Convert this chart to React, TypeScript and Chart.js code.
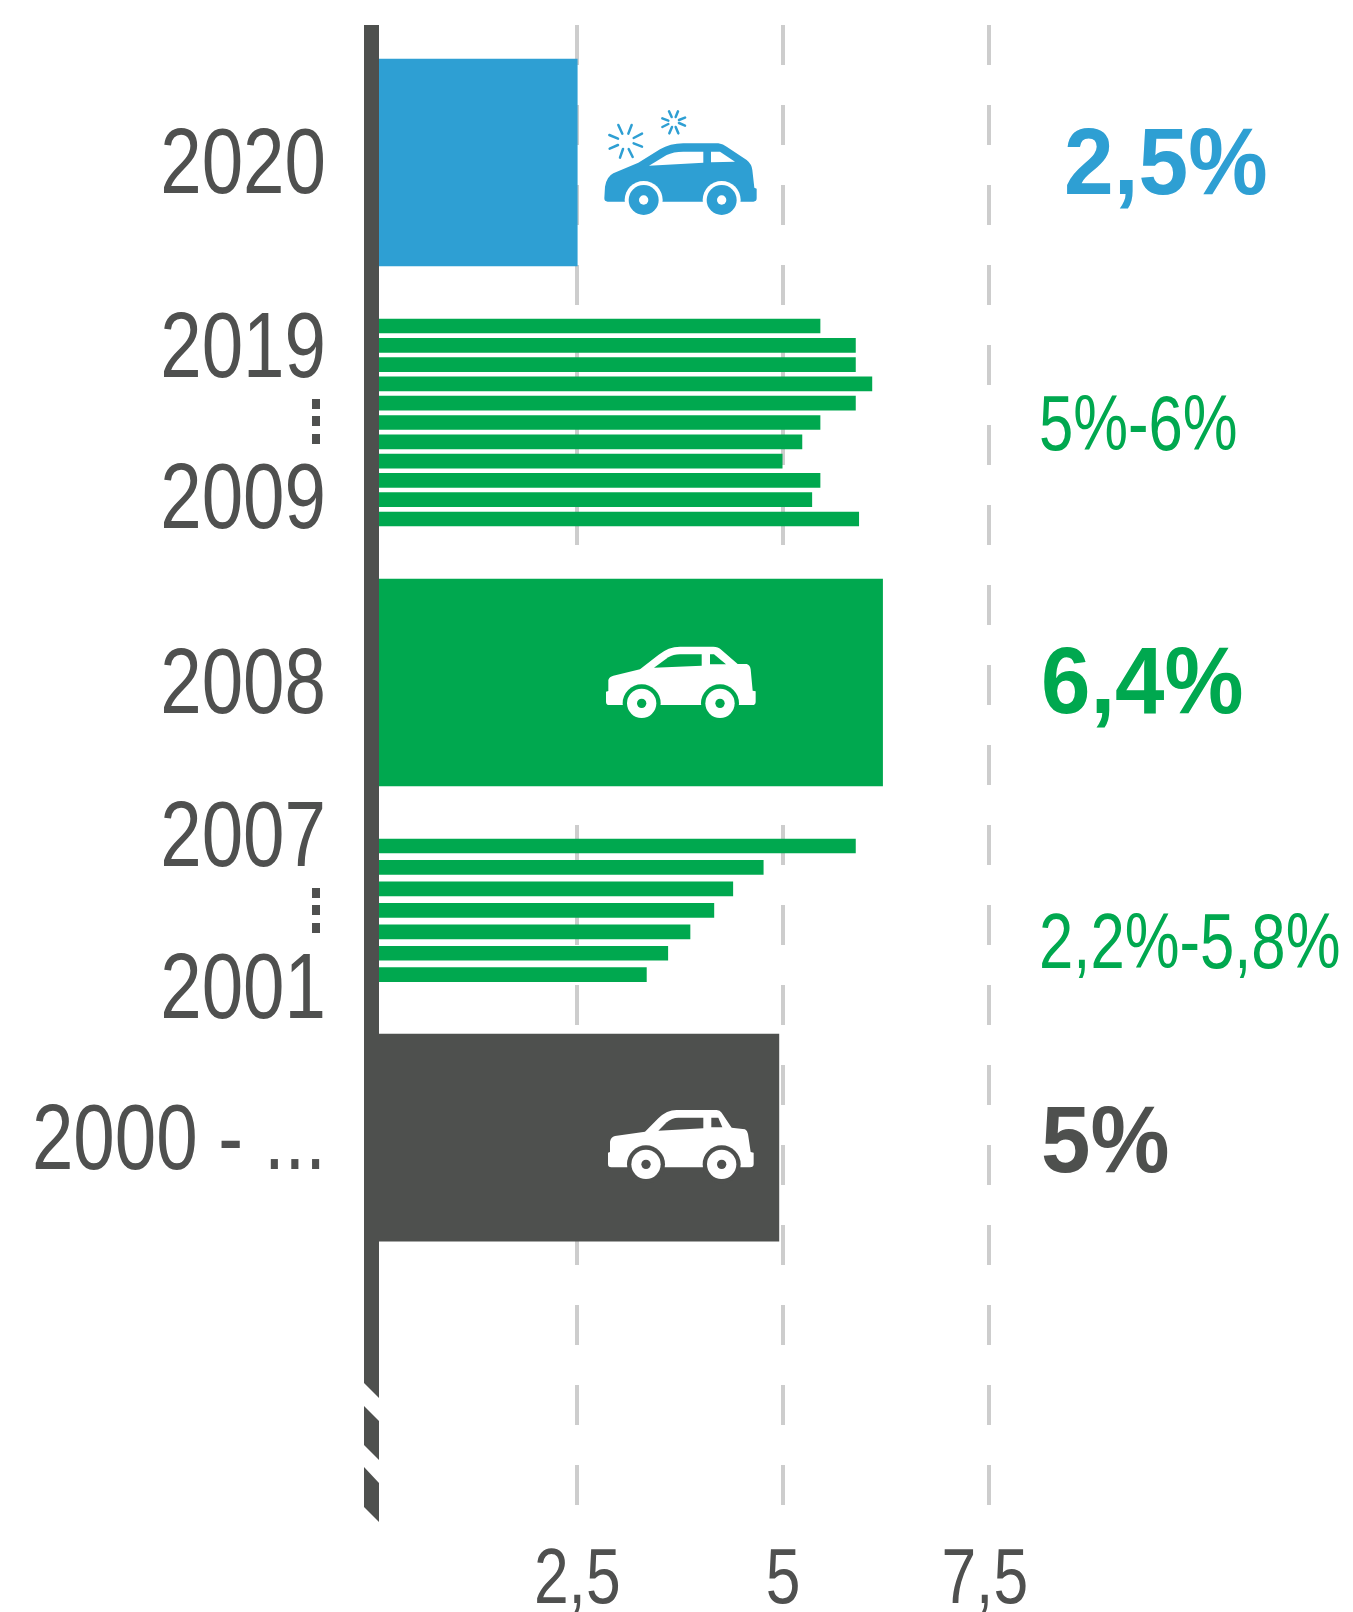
import React, { useEffect, useRef } from "react";
import { Chart, registerables } from "chart.js";

Chart.register(...registerables);

// ---- data ----
const highlightYear = ["2020"];
const highlightValue = [2.5];
const recentYears = ["2019", "2018", "2017", "2016", "2015", "2014", "2013", "2012", "2011", "2010", "2009"];
const recentValues = [5.45, 5.88, 5.88, 6.08, 5.88, 5.45, 5.23, 4.99, 5.45, 5.35, 5.92];
const crisisYear = ["2008"];
const crisisValue = [6.21];
const earlyYears = ["2007", "2006", "2005", "2004", "2003", "2002", "2001"];
const earlyValues = [5.88, 4.76, 4.39, 4.16, 3.87, 3.6, 3.34];
const baseYear = ["2000 - ..."];
const baseValue = [4.95];
const xTickValues = [2.5, 5, 7.5];
const yTickLabels = ["2020", "2019", "2009", "2008", "2007", "2001", "2000 - ..."];
const valueLabels = ["2,5%", "5%-6%", "6,4%", "2,2%-5,8%", "5%"];

// ---- colours / layout ----
const BLUE = "#2e9fd3";
const GREEN = "#00a84f";
const DARK = "#4e504e";
const TEXT = "#4f504f";
const GRID = "#cdcdcd";
const FONT = "'Liberation Sans', sans-serif";
const W = 1353;
const H = 1612;
const ZERO_X = 371.5;
const PX_PER_UNIT = 82.3;
const PLOT_TOP = 25;
const PLOT_BOTTOM = 1505;
const AXIS_WIDTH = 15;
const xTickNudge = [0, 0, -4];

// vertical slot of each row, in plot units
const slot2020 = 162.5;
const slotGap = 163.5;
const recentPitch = 19.3;
const earlyPitch = 21.45;
const slot2019 = slot2020 + slotGap;
const slot2009 = slot2019 + recentPitch * (recentYears.length - 1);
const slot2008 = slot2009 + slotGap;
const slot2007 = slot2008 + slotGap;
const slot2001 = slot2007 + earlyPitch * (earlyYears.length - 1);
const slot2000 = slot2001 + slotGap - 0.5;
const yTickSlots = [162, 346, 497, 682, 835, 987, 1138];
const valueLabelSlots = [163, 419, 682, 937, 1141];

const pts = (vals: number[], start: number, pitch: number) =>
  vals.map((v, i) => ({ x: v, y: start + pitch * i }));

function car(
  ctx: CanvasRenderingContext2D,
  ox: number,
  oy: number,
  fg: string,
  bg: string,
  body: string,
  windows: string[],
  wheels: [number, number][],
  wheelR: number,
  cutR: number,
  hubR: number
) {
  ctx.save();
  ctx.translate(ox, oy);
  ctx.scale(1 / 3, 1 / 3);
  ctx.fillStyle = fg;
  ctx.fill(new Path2D(body));
  ctx.fillStyle = bg;
  windows.forEach((w) => ctx.fill(new Path2D(w)));
  wheels.forEach(([x, y]) => {
    ctx.fillStyle = bg;
    ctx.beginPath();
    ctx.arc(x, y, cutR, 0, Math.PI * 2);
    ctx.fill();
    ctx.fillStyle = fg;
    ctx.beginPath();
    ctx.arc(x, y, wheelR, 0, Math.PI * 2);
    ctx.fill();
    ctx.fillStyle = bg;
    ctx.beginPath();
    ctx.arc(x, y, hubR, 0, Math.PI * 2);
    ctx.fill();
  });
  ctx.restore();
}

function burst(ctx: CanvasRenderingContext2D, ox: number, oy: number, segs: number[][]) {
  ctx.save();
  ctx.translate(ox, oy);
  ctx.scale(1 / 3, 1 / 3);
  ctx.strokeStyle = BLUE;
  ctx.lineWidth = 7.5;
  ctx.lineCap = "round";
  segs.forEach(([a, b, c, d]) => {
    ctx.beginPath();
    ctx.moveTo(a, b);
    ctx.lineTo(c, d);
    ctx.stroke();
  });
  ctx.restore();
}

// condensed text: the page has no narrow face, so the regular one is squeezed
function squeezed(
  ctx: CanvasRenderingContext2D,
  t: string,
  x: number,
  y: number,
  align: CanvasTextAlign,
  col: string,
  weight: string,
  size: number,
  k: number
) {
  ctx.save();
  ctx.translate(x, y);
  ctx.scale(k, 1);
  ctx.textAlign = align;
  ctx.textBaseline = "alphabetic";
  ctx.fillStyle = col;
  ctx.font = `${weight} ${size}px ${FONT}`;
  ctx.fillText(t, 0, 0);
  ctx.restore();
}

const decorations = {
  id: "decorations",
  afterDatasetsDraw(chart: any) {
    const ctx: CanvasRenderingContext2D = chart.ctx;
    const xs = chart.scales.x;
    const ys = chart.scales.y;
    const l = xs.getPixelForValue(0) - AXIS_WIDTH / 2;
    const r = l + AXIS_WIDTH;

    // axis with break
    ctx.save();
    ctx.fillStyle = DARK;
    const seg = (tl: number, tr: number, bl: number, br: number) => {
      ctx.beginPath();
      ctx.moveTo(l, tl);
      ctx.lineTo(r, tr);
      ctx.lineTo(r, br);
      ctx.lineTo(l, bl);
      ctx.closePath();
      ctx.fill();
    };
    seg(PLOT_TOP, PLOT_TOP, 1383, 1398);
    seg(1406, 1421, 1445, 1460);
    seg(1467, 1483, 1507, 1522);

    // dots between year labels
    ctx.fillStyle = TEXT;
    [399, 416, 434, 888, 905, 923].forEach((y) => ctx.fillRect(312, y, 8, 10));

    // cars
    car(
      ctx, 560, 90, BLUE, "#ffffff",
      "M133 325 L135 290 Q140 260 160 250 L235 218 L300 178 Q330 160 370 160 L475 160 Q490 162 500 170 L560 210 Q575 222 577 240 L583 293 L590 296 L590 325 Q590 335 580 335 L143 335 Q133 335 133 325 Z",
      ["M267 227 L320 195 Q340 185 370 185 L430 185 L430 218 Z", "M453 185 L480 185 L525 215 L453 217 Z"],
      [[251, 330], [485, 330]], 45, 57, 14
    );
    burst(ctx, 560, 90, [
      [175, 105, 187, 131], [215, 105, 205, 131], [246, 131, 221, 144], [246, 170, 221, 160],
      [218, 201, 206, 177], [180, 203, 189, 177], [149, 176, 174, 165], [148, 135, 174, 146],
    ]);
    burst(ctx, 560, 90, [
      [327, 64, 335, 81], [354, 64, 347, 81], [375, 83, 357, 90], [375, 107, 357, 99],
      [355, 130, 347, 111], [328, 130, 336, 111], [307, 111, 325, 102], [307, 85, 325, 92],
    ]);
    car(
      ctx, 590, 630, "#ffffff", GREEN,
      "M48 185 L55 183 L55 150 Q58 140 70 137 L150 118 L205 75 Q235 50 270 50 L370 50 Q385 50 392 58 L443 102 L470 102 Q480 105 482 118 L488 182 L497 184 L497 215 Q497 225 487 225 L58 225 Q48 225 48 215 Z",
      ["M192 113 L235 82 Q250 73 270 73 L335 73 L335 107 Z", "M360 73 L372 73 L408 103 L360 103 Z"],
      [[155, 220], [390, 220]], 44, 57, 14
    );
    car(
      ctx, 590, 1090, "#ffffff", DARK,
      "M54 188 L60 186 L60 155 Q62 142 75 138 L165 125 L205 85 Q230 60 260 60 L380 60 Q390 60 395 68 L425 113 L465 118 Q472 122 474 132 L482 186 L491 188 L491 222 Q491 232 480 232 L64 232 Q54 232 54 222 Z",
      ["M205 122 L230 97 Q245 83 265 83 L340 83 L340 115 Z", "M364 83 L385 83 L397 112 L364 112 Z"],
      [[168, 223], [395, 223]], 44, 57, 14
    );

    // axis tick labels, taken from the scales
    ys.ticks.forEach((t: any, i: number) => {
      squeezed(ctx, t.label, 326, ys.getPixelForTick(i) + 31, "right", TEXT, "normal", 92, 0.81);
    });
    xs.ticks.forEach((t: any, i: number) => {
      squeezed(ctx, t.label, xs.getPixelForTick(i) + xTickNudge[i], 1603, "center", TEXT, "normal", 78, 0.8);
    });

    // value labels
    const vy = (i: number) => ys.getPixelForValue(valueLabelSlots[i]) + 31;
    squeezed(ctx, valueLabels[0], 1064, vy(0), "left", BLUE, "bold", 94, 0.95);
    squeezed(ctx, valueLabels[1], 1039, vy(1), "left", GREEN, "normal", 78, 0.79);
    squeezed(ctx, valueLabels[2], 1041, vy(2), "left", GREEN, "bold", 94, 0.945);
    squeezed(ctx, valueLabels[3], 1039, vy(3), "left", GREEN, "normal", 78, 0.79);
    squeezed(ctx, valueLabels[4], 1041, vy(4), "left", DARK, "bold", 94, 0.945);
    ctx.restore();
  },
};

export default function App() {
  const ref = useRef<HTMLCanvasElement>(null);
  useEffect(() => {
    document.body.style.margin = "0";
    const bar = (color: string, thickness: number, data: { x: number; y: number }[], label: string) => ({
      label,
      data,
      backgroundColor: color,
      barThickness: thickness,
      grouped: false,
      borderWidth: 0,
    });
    const chart = new Chart(ref.current!, {
      type: "bar",
      data: {
        datasets: [
          bar(BLUE, 207, pts(highlightValue, slot2020, 0), highlightYear[0]),
          bar(GREEN, 14, pts(recentValues, slot2019, recentPitch), "2019-2009"),
          bar(GREEN, 207, pts(crisisValue, slot2008, 0), crisisYear[0]),
          bar(GREEN, 14, pts(earlyValues, slot2007, earlyPitch), "2007-2001"),
          bar(DARK, 207, pts(baseValue, slot2000, 0), baseYear[0]),
        ],
      },
      options: {
        indexAxis: "y",
        responsive: false,
        animation: false,
        layout: { padding: { top: PLOT_TOP, right: W - (ZERO_X + PX_PER_UNIT * 11), left: 0, bottom: 0 } },
        plugins: { legend: { display: false }, tooltip: { enabled: false } },
        scales: {
          x: {
            type: "linear",
            min: 0,
            max: 11,
            afterBuildTicks: (s: any) => {
              s.ticks = xTickValues.map((value) => ({ value }));
            },
            afterFit: (s: any) => {
              s.height = H - PLOT_BOTTOM;
              s.paddingLeft = 0;
              s.paddingRight = 0;
            },
            ticks: {
              display: false,
              autoSkip: false,
              callback: (v: any) => String(v).replace(".", ","),
            },
            grid: { color: GRID, lineWidth: 4, drawTicks: false },
            border: { display: false, dash: [40, 40] },
          },
          y: {
            type: "linear",
            reverse: true,
            offset: false,
            min: PLOT_TOP,
            max: PLOT_BOTTOM,
            afterBuildTicks: (s: any) => {
              s.ticks = yTickSlots.map((value) => ({ value }));
            },
            afterFit: (s: any) => {
              s.width = ZERO_X;
              s.paddingTop = 0;
              s.paddingBottom = 0;
            },
            ticks: {
              display: false,
              autoSkip: false,
              callback: (v: any) => yTickLabels[yTickSlots.indexOf(v)],
            },
            grid: { display: false, drawTicks: false, offset: false },
            border: { display: false },
          },
        },
      } as any,
      plugins: [decorations],
    });
    return () => chart.destroy();
  }, []);
  return <canvas ref={ref} width={W} height={H} style={{ display: "block" }} />;
}
